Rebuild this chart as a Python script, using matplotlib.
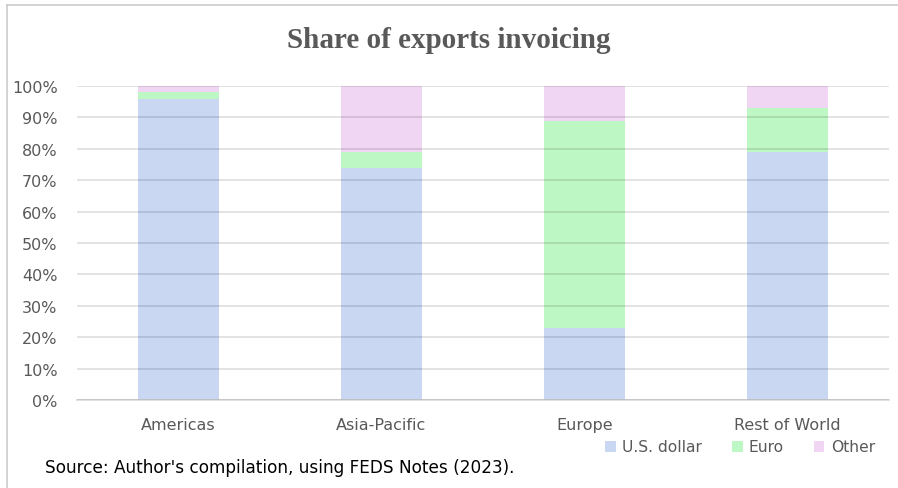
import numpy as np
import matplotlib.pyplot as plt
from matplotlib.patches import Patch
from matplotlib.lines import Line2D

# invoicing currency shares by region (percent of exports)
regions = ['Americas', 'Asia-Pacific', 'Europe', 'Rest of World']
usd = [96, 74, 23, 79]
euro = [2, 5, 66, 14]
other = [2, 21, 11, 7]
series_names = ['U.S. dollar', 'Euro', 'Other']
colors = ['#c9d7f3', '#bdf7c4', '#f0d6f2']

fig = plt.figure(figsize=(8.98, 4.89), dpi=100)
ax = fig.add_axes([77/898, 1-401/489, (889-77)/898, (401-87)/489])

x = np.arange(len(regions))
bottom = np.zeros(len(regions))
for vals, name, col in zip([usd, euro, other], series_names, colors):
	vals = np.array(vals) / 100
	ax.bar(x, vals, 0.4, bottom=bottom, color=col, label=name, zorder=1)
	bottom += vals

ax.set_xlim(-0.5, 3.5)
ax.set_ylim(0, 1)
ax.set_yticks(np.arange(0, 1.01, 0.1))
ax.set_yticklabels(['%d%%' % round(v*100) for v in np.arange(0, 1.01, 0.1)])
ax.set_xticks(x)
ax.set_xticklabels(regions)
# gridlines sit over the bars, faint enough to show through
ax.yaxis.grid(True, color='black', alpha=0.13, lw=1.2, zorder=3)
ax.set_axisbelow(False)
for s in ['top', 'right', 'left']:
	ax.spines[s].set_visible(False)
ax.spines['bottom'].set_color('#d9d9d9')
ax.spines['bottom'].set_linewidth(1.2)
ax.tick_params(length=0, labelsize=11.5, labelcolor='#595959')
ax.tick_params(axis='y', pad=14)
ax.tick_params(axis='x', pad=12)

fig.text(0.5, 1-40/489, 'Share of exports invoicing', ha='center', va='center',
	fontsize=21, fontweight='bold', color='#595959', family='Liberation Serif')

handles = [Patch(facecolor=c, edgecolor='none') for c in colors]
fig.legend(handles, series_names, loc='center', bbox_to_anchor=(740/898, 1-448/489),
	ncol=3, frameon=False, fontsize=11.2, labelcolor='#595959', handlelength=0.7,
	handleheight=0.7, handletextpad=0.4, columnspacing=1.9)

fig.text(45/898, 1-468/489, "Source: Author's compilation, using FEDS Notes (2023).",
	ha='left', va='center', fontsize=12.2, color='black')

# thin frame along the top and left edges
fig.add_artist(Line2D([7/898, 1], [1-6/489, 1-6/489], color='#cccccc', lw=1.2))
fig.add_artist(Line2D([7/898, 7/898], [0, 1-6/489], color='#cccccc', lw=1.2))

fig.savefig('out.png', dpi=100)
